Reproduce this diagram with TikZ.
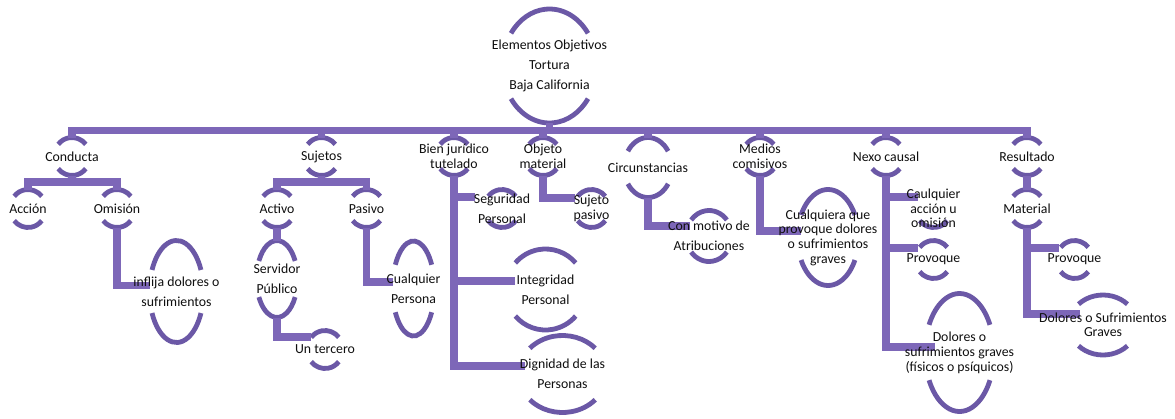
\documentclass[tikz,border=0pt]{standalone}
\usepackage{fontspec}
\setmainfont{Carlito}
\usetikzlibrary{shapes.geometric}

\pgfdeclarelayer{bg}
\pgfdeclarelayer{arcs}
\pgfdeclarelayer{conns}
\pgfsetlayers{bg,arcs,conns,main}

\definecolor{arcpurple}{RGB}{107,88,166}
\definecolor{linkpurple}{RGB}{125,103,184}
\definecolor{ink}{RGB}{15,15,15}

\tikzset{
  ring/.style={ellipse, draw=none, inner sep=0pt, outer sep=0pt},
  ringtext/.style={text=ink, align=center, inner sep=0pt},
  arcline/.style={draw=arcpurple, line width=4.8pt},
  conn/.style={draw=linkpurple, line width=7.5pt, line join=miter},
}

% #1 name, #2 x, #3 y (downwards), #4 x radius, #5 y radius,
% #6 half-gap angle, #7 text, #8 line distance
\newcommand\ringnode[8]{%
  \node[ring, minimum width=#4*2, minimum height=#5*2,
        label={[name=#1-text, ringtext, font={\fontsize{13.8}{#8}\selectfont}]center:{#7}}]
        (#1) at (#2,-#3) {};}
\newcommand\toparc[4]{%
  \begin{pgfonlayer}{arcs}
  \draw[arcline] ([shift={({#2*cos(#4)},{#3*sin(#4)})}]#1.center)
     arc[start angle=#4, end angle=180-#4, x radius=#2, y radius=#3];
  \end{pgfonlayer}}
\newcommand\botarc[4]{%
  \begin{pgfonlayer}{arcs}
  \draw[arcline] ([shift={({-#2*cos(#4)},{-#3*sin(#4)})}]#1.center)
     arc[start angle=180+#4, end angle=360-#4, x radius=#2, y radius=#3];
  \end{pgfonlayer}}
\newcommand\ring[8]{%
  \ringnode{#1}{#2}{#3}{#4}{#5}{#6}{#7}{#8}%
  \toparc{#1}{#4}{#5}{#6}\botarc{#1}{#4}{#5}{#6}}
% small two-arc ring
\newcommand\smallring[5][16]{\ring{#2}{#3}{#4}{18}{19}{40}{#5}{#1}}

\begin{document}
\begin{tikzpicture}[x=1pt,y=1pt]
\begin{pgfonlayer}{bg}
  \fill[white] (0,0) rectangle (1175,-418);
\end{pgfonlayer}
\useasboundingbox (0,0) rectangle (1175,-418);

% root
\ring{root}{549.5}{66}{47}{57}{35}{Elementos Objetivos\\Tortura\\Baja California}{20}

% first level
\smallring{conducta}{72}{156.5}{Conducta}
\smallring{sujetos}{321.5}{156.5}{Sujetos}
\smallring[15]{bien}{454}{156.5}{Bien jurídico\\tutelado}
\smallring[15]{objeto}{543}{156.5}{Objeto\\material}
\ring{circ}{648}{167.5}{24}{30}{33}{Circunstancias}{16}
\smallring[15]{medios}{760}{156.5}{Medios\\comisivos}
\smallring{nexo}{886}{156.5}{Nexo causal}
\smallring{result}{1027}{156.5}{Resultado}

% Conducta
\smallring{accion}{28}{208.5}{Acción}
\smallring{omision}{117}{208.5}{Omisión}
\ring{inflija}{176.5}{291.5}{27}{51}{25}{inflija dolores o\\sufrimientos}{20}

% Sujetos
\smallring{activo}{277}{208.5}{Activo}
\smallring{pasivo}{366.5}{208.5}{Pasivo}
\ring{servidor}{277}{279}{20.5}{38.5}{28}{Servidor\\Público}{20}
\smallring{tercero}{325}{349.5}{Un tercero}
\ring{persona}{413.5}{288.5}{21}{47.5}{30}{Cualquier\\Persona}{20}

% Bien jurídico tutelado
\smallring[20]{seguridad}{502}{208.5}{Seguridad\\Personal}
\ring{integridad}{545.5}{289.5}{40}{40.5}{41}{Integridad\\Personal}{20}
\ring{dignidad}{562.5}{374}{44}{38.5}{42}{Dignidad de las\\Personas}{20}

% Objeto material
\smallring[15]{sujeto}{591.5}{208.5}{Sujeto\\pasivo}

% Circunstancias
\ring{motivo}{709}{236}{23}{25.5}{39}{Con motivo de\\Atribuciones}{20}

% Medios comisivos
\ring{cualquiera}{828}{237.5}{30.5}{48}{28}{Cualquiera que\\provoque dolores\\o sufrimientos\\graves}{14.7}

% Nexo causal
\ringnode{caul}{933.5}{208.5}{18}{19}{40}{Caulquier\\acción u\\omisión}{14.5}
\botarc{caul}{18}{19}{40}
\smallring{provoca}{933.5}{259.5}{Provoque}
\ring{dolores}{959.5}{352.5}{34.5}{59}{28}{Dolores o\\sufrimientos graves\\(físicos o psíquicos)}{15}

% Resultado
\smallring{material}{1027}{208.5}{Material}
\smallring{provocb}{1074.5}{259.5}{Provoque}
\ring{dsg}{1103}{325}{34}{30}{44}{Dolores o Sufrimientos\\Graves}{14}

% connectors
\begin{pgfonlayer}{conns}
  \foreach \child in {conducta,sujetos,bien,objeto,circ,medios,nexo,result}
    \draw[conn] (root.south) -- ++(0,-7.5) -| (\child.north);

  \foreach \child in {accion,omision}
    \draw[conn] (conducta.south) -- ++(0,-6.5) -| (\child.north);
  \draw[conn] (omision.south) |- ([yshift=6]inflija.west);

  \foreach \child in {activo,pasivo}
    \draw[conn] (sujetos.south) -- ++(0,-6.5) -| (\child.north);
  \draw[conn] (activo.south) -- (servidor.north);
  \draw[conn] (servidor.south) |- ([xshift=4,yshift=12.5]tercero.west);
  \draw[conn] (pasivo.south) |- ([yshift=6.5]persona.west);

  \draw[conn] (bien.south) |- ([xshift=-9,yshift=11.5]seguridad.west);
  \draw[conn] (bien.south) |- ([xshift=9.5,yshift=8.5]integridad.west);
  \draw[conn] (bien.south) |- ([xshift=6.5,yshift=8]dignidad.west);

  \draw[conn] (objeto.south) |- ([xshift=1.5,yshift=10.5]sujeto.west);

  \draw[conn] (circ.south) |- ([xshift=4,yshift=10]motivo.west);

  \draw[conn] (medios.south) |- ([xshift=3,yshift=6.5]cualquiera.west);

  \draw[conn] (nexo.south) |- ([xshift=2.5,yshift=11.5]caul.west);
  \draw[conn] (nexo.south) |- ([xshift=2.5,yshift=11.5]provoca.west);
  \draw[conn] (nexo.south) |- ([xshift=10,yshift=5.5]dolores.west);

  \draw[conn] (result.south) -- (material.north);
  \draw[conn] (material.south) |- ([xshift=2.5,yshift=11.5]provocb.west);
  \draw[conn] (material.south) |- ([xshift=11,yshift=11]dsg.west);
\end{pgfonlayer}
\end{tikzpicture}
\end{document}
